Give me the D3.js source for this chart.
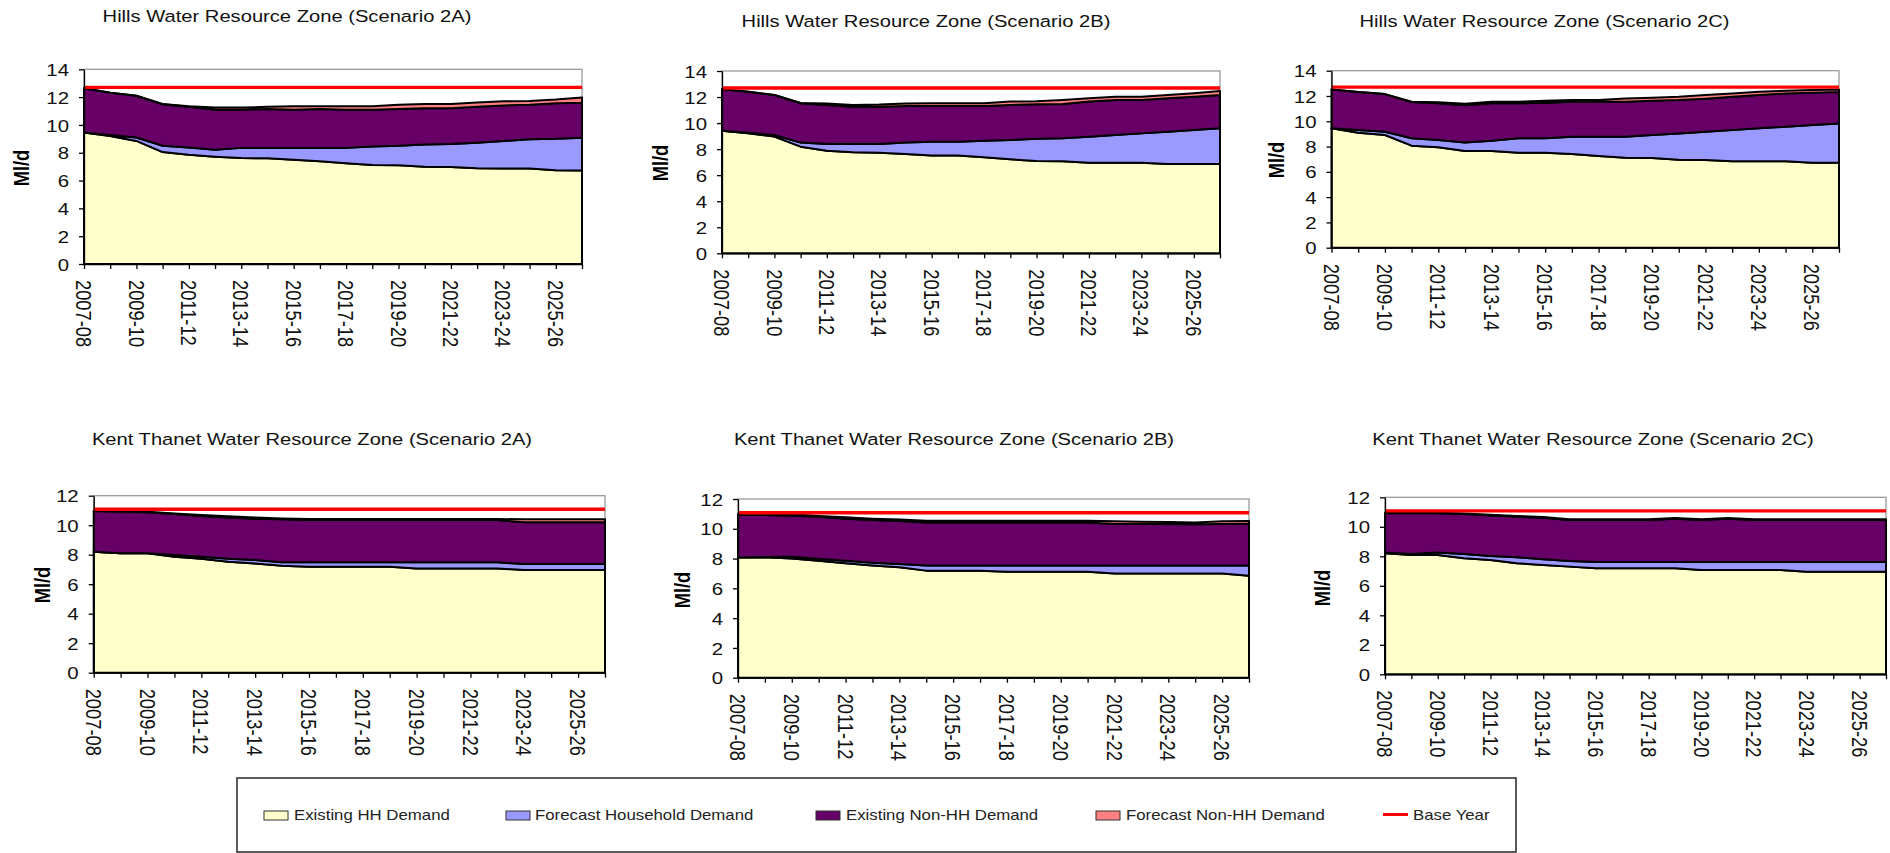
<!DOCTYPE html>
<html>
<head>
<meta charset="utf-8">
<script src="https://cdn.jsdelivr.net/npm/d3@7"></script>
<style>
  html, body { margin: 0; padding: 0; background: #fff; }
  svg { display: block; font-family: "Liberation Sans", Arial, sans-serif; }
</style>
</head>
<body>
<svg id="chart" width="1890" height="853"></svg>
<script>
// ---- Categories and tick labels ----
const categories = ["2007-08","2008-09","2009-10","2010-11","2011-12","2012-13","2013-14","2014-15","2015-16","2016-17",
                    "2017-18","2018-19","2019-20","2020-21","2021-22","2022-23","2023-24","2024-25","2025-26","2026-27"];
const hillsYTicks = [0, 2, 4, 6, 8, 10, 12, 14];
const kentYTicks = [0, 2, 4, 6, 8, 10, 12];

// ---- Series ----
const seriesNames = ["Existing HH Demand", "Forecast Household Demand", "Existing Non-HH Demand", "Forecast Non-HH Demand"];
const seriesColors = ["#FFFFCC", "#9999FF", "#660066", "#FF8080"];
const baseYearName = "Base Year";
const baseYearColor = "#FF0000";

// Hills WRZ, base year demand (Ml/d)
const hillsBaseYear = 12.7;
// Kent Thanet WRZ, base year demand (Ml/d)
const kentBaseYear = 11.08;

// Hills WRZ - Scenario 2A
const hills2A_existingHH    = [9.45, 9.20, 8.85, 8.05, 7.85, 7.72, 7.62, 7.60, 7.50, 7.38, 7.25, 7.12, 7.10, 7.00, 6.98, 6.88, 6.86, 6.86, 6.74, 6.72];
const hills2A_forecastHH    = [0.00, 0.08, 0.25, 0.45, 0.52, 0.50, 0.73, 0.75, 0.85, 0.97, 1.10, 1.33, 1.40, 1.60, 1.64, 1.84, 1.99, 2.11, 2.26, 2.36];
const hills2A_existingNonHH = [3.18, 3.04, 3.00, 2.98, 2.93, 2.88, 2.75, 2.80, 2.75, 2.80, 2.75, 2.65, 2.65, 2.60, 2.58, 2.58, 2.55, 2.48, 2.55, 2.52];
const hills2A_forecastNonHH = [0.00, 0.00, 0.00, 0.02, 0.05, 0.15, 0.15, 0.15, 0.25, 0.20, 0.25, 0.25, 0.30, 0.30, 0.30, 0.32, 0.30, 0.27, 0.27, 0.38];

// Hills WRZ - Scenario 2B
const hills2B_existingHH    = [9.42, 9.21, 8.96, 8.19, 7.88, 7.76, 7.73, 7.63, 7.52, 7.52, 7.37, 7.22, 7.09, 7.06, 6.96, 6.96, 6.96, 6.86, 6.86, 6.86];
const hills2B_forecastHH    = [0.00, 0.04, 0.13, 0.31, 0.52, 0.64, 0.67, 0.87, 1.05, 1.05, 1.28, 1.48, 1.71, 1.77, 2.00, 2.13, 2.25, 2.48, 2.61, 2.74];
const hills2B_existingNonHH = [3.17, 3.16, 3.07, 3.02, 2.99, 2.86, 2.86, 2.81, 2.74, 2.74, 2.66, 2.69, 2.64, 2.64, 2.69, 2.68, 2.56, 2.56, 2.56, 2.56];
const hills2B_forecastNonHH = [0.00, 0.00, 0.00, 0.03, 0.11, 0.13, 0.16, 0.19, 0.21, 0.21, 0.21, 0.26, 0.23, 0.30, 0.25, 0.26, 0.26, 0.26, 0.26, 0.30];

// Hills WRZ - Scenario 2C
const hills2C_existingHH    = [9.44, 9.10, 8.91, 8.07, 7.94, 7.65, 7.65, 7.51, 7.51, 7.41, 7.25, 7.12, 7.09, 6.96, 6.93, 6.83, 6.83, 6.83, 6.72, 6.72];
const hills2C_forecastHH    = [0.00, 0.20, 0.26, 0.58, 0.58, 0.68, 0.81, 1.14, 1.14, 1.37, 1.53, 1.66, 1.82, 2.08, 2.24, 2.48, 2.61, 2.74, 2.98, 3.11];
const hills2C_existingNonHH = [3.08, 3.01, 2.98, 2.87, 2.90, 2.93, 2.96, 2.77, 2.82, 2.77, 2.77, 2.77, 2.72, 2.64, 2.62, 2.63, 2.63, 2.63, 2.56, 2.48];
const hills2C_forecastNonHH = [0.00, 0.00, 0.00, 0.03, 0.08, 0.13, 0.13, 0.13, 0.16, 0.13, 0.13, 0.26, 0.23, 0.26, 0.28, 0.26, 0.27, 0.22, 0.21, 0.21];

// Kent Thanet WRZ - Scenario 2A
const kent2A_existingHH    = [8.20, 8.09, 8.09, 7.86, 7.73, 7.53, 7.41, 7.25, 7.19, 7.19, 7.19, 7.19, 7.07, 7.07, 7.07, 7.07, 6.96, 6.96, 6.96, 6.96];
const kent2A_forecastHH    = [0.00, 0.00, 0.00, 0.12, 0.13, 0.20, 0.23, 0.23, 0.29, 0.29, 0.29, 0.29, 0.41, 0.41, 0.41, 0.41, 0.41, 0.41, 0.41, 0.41];
const kent2A_existingNonHH = [2.76, 2.83, 2.78, 2.78, 2.76, 2.80, 2.80, 2.92, 2.87, 2.87, 2.87, 2.87, 2.87, 2.87, 2.87, 2.87, 2.83, 2.83, 2.83, 2.83];
const kent2A_forecastNonHH = [0.00, 0.04, 0.05, 0.04, 0.07, 0.07, 0.09, 0.06, 0.07, 0.07, 0.07, 0.07, 0.07, 0.07, 0.07, 0.07, 0.20, 0.20, 0.20, 0.20];

// Kent Thanet WRZ - Scenario 2B
const kent2B_existingHH    = [8.08, 8.08, 8.01, 7.86, 7.68, 7.54, 7.41, 7.19, 7.19, 7.19, 7.12, 7.12, 7.12, 7.12, 7.00, 7.00, 7.00, 7.00, 7.00, 6.85];
const kent2B_forecastHH    = [0.00, 0.03, 0.12, 0.13, 0.18, 0.18, 0.22, 0.35, 0.35, 0.35, 0.42, 0.42, 0.42, 0.42, 0.54, 0.54, 0.54, 0.54, 0.54, 0.69];
const kent2B_existingNonHH = [2.84, 2.81, 2.75, 2.82, 2.82, 2.87, 2.89, 2.89, 2.89, 2.89, 2.89, 2.89, 2.89, 2.89, 2.78, 2.78, 2.78, 2.76, 2.78, 2.78];
const kent2B_forecastNonHH = [0.07, 0.07, 0.09, 0.05, 0.09, 0.09, 0.11, 0.11, 0.11, 0.11, 0.11, 0.11, 0.11, 0.11, 0.18, 0.16, 0.14, 0.13, 0.18, 0.20];

// Kent Thanet WRZ - Scenario 2C
const kent2C_existingHH    = [8.20, 8.09, 8.09, 7.86, 7.75, 7.53, 7.41, 7.30, 7.19, 7.19, 7.19, 7.19, 7.07, 7.07, 7.07, 7.07, 6.96, 6.96, 6.96, 6.96];
const kent2C_forecastHH    = [0.05, 0.07, 0.16, 0.30, 0.27, 0.40, 0.39, 0.38, 0.43, 0.43, 0.43, 0.43, 0.55, 0.55, 0.55, 0.55, 0.66, 0.66, 0.66, 0.66];
const kent2C_existingNonHH = [2.67, 2.76, 2.67, 2.71, 2.74, 2.76, 2.82, 2.78, 2.84, 2.84, 2.84, 2.93, 2.84, 2.93, 2.84, 2.84, 2.84, 2.84, 2.84, 2.84];
const kent2C_forecastNonHH = [0.04, 0.04, 0.04, 0.04, 0.05, 0.05, 0.05, 0.05, 0.05, 0.05, 0.05, 0.05, 0.05, 0.05, 0.05, 0.05, 0.05, 0.05, 0.05, 0.05];

// ---- Panel layout (pixel frames of each plot area) ----
const panels = [
  { title: "Hills Water Resource Zone (Scenario 2A)", series: [hills2A_existingHH, hills2A_forecastHH, hills2A_existingNonHH, hills2A_forecastNonHH],
    base: hillsBaseYear, ticks: hillsYTicks, left: 84, right: 582, top: 69.3, bottom: 264, titleX: 287, titleY: 22, labX: 21, labY: 168 },
  { title: "Hills Water Resource Zone (Scenario 2B)", series: [hills2B_existingHH, hills2B_forecastHH, hills2B_existingNonHH, hills2B_forecastNonHH],
    base: hillsBaseYear, ticks: hillsYTicks, left: 722, right: 1220, top: 71, bottom: 253.3, titleX: 926, titleY: 27.3, labX: 660, labY: 163 },
  { title: "Hills Water Resource Zone (Scenario 2C)", series: [hills2C_existingHH, hills2C_forecastHH, hills2C_existingNonHH, hills2C_forecastNonHH],
    base: hillsBaseYear, ticks: hillsYTicks, left: 1331.5, right: 1839, top: 70.7, bottom: 247.7, titleX: 1544.5, titleY: 26.7, labX: 1276, labY: 160 },
  { title: "Kent Thanet Water Resource Zone (Scenario 2A)", series: [kent2A_existingHH, kent2A_forecastHH, kent2A_existingNonHH, kent2A_forecastNonHH],
    base: kentBaseYear, ticks: kentYTicks, left: 93.7, right: 605, top: 495.7, bottom: 672.7, titleX: 312, titleY: 445, labX: 42.3, labY: 585 },
  { title: "Kent Thanet Water Resource Zone (Scenario 2B)", series: [kent2B_existingHH, kent2B_forecastHH, kent2B_existingNonHH, kent2B_forecastNonHH],
    base: kentBaseYear, ticks: kentYTicks, left: 738, right: 1249, top: 499, bottom: 677.7, titleX: 954, titleY: 445, labX: 682, labY: 590 },
  { title: "Kent Thanet Water Resource Zone (Scenario 2C)", series: [kent2C_existingHH, kent2C_forecastHH, kent2C_existingNonHH, kent2C_forecastNonHH],
    base: kentBaseYear, ticks: kentYTicks, left: 1385, right: 1886, top: 497.3, bottom: 674.3, titleX: 1593, titleY: 445, labX: 1322, labY: 588 }
];

// Text in these charts is set slightly wide
const SX = 1.2;
const svg = d3.select("#chart");
const keys = ["ehh", "fhh", "enhh", "fnhh"];

panels.forEach(p => {
  const g = svg.append("g");
  const x = d3.scalePoint().domain(categories).range([p.left, p.right]).padding(0);
  const y = d3.scaleLinear().domain([0, d3.max(p.ticks)]).range([p.bottom, p.top]);

  const rows = categories.map((c, i) => ({ cat: c, ehh: p.series[0][i], fhh: p.series[1][i], enhh: p.series[2][i], fnhh: p.series[3][i] }));
  const stacked = d3.stack().keys(keys)(rows);

  // plot area frame
  g.append("rect")
    .attr("x", p.left).attr("y", p.top)
    .attr("width", p.right - p.left).attr("height", p.bottom - p.top)
    .attr("fill", "#fff").attr("stroke", "#9a9a9a").attr("stroke-width", 1.3);

  const area = d3.area()
    .x(d => x(d.data.cat))
    .y0(d => y(d[0]))
    .y1(d => y(d[1]));

  g.selectAll("path.layer").data(stacked).join("path")
    .attr("class", "layer")
    .attr("d", area)
    .attr("fill", (d, i) => seriesColors[i])
    .attr("stroke", "#000").attr("stroke-width", 2).attr("stroke-linejoin", "round");

  // base-year line
  g.append("line")
    .attr("x1", p.left).attr("x2", p.right)
    .attr("y1", y(p.base)).attr("y2", y(p.base))
    .attr("stroke", baseYearColor).attr("stroke-width", 3.4);

  // y axis
  const yAxis = g.append("g").attr("transform", `translate(${p.left},0)`)
    .call(d3.axisLeft(y).tickValues(p.ticks).tickSize(5).tickSizeOuter(0).tickFormat(d3.format("d")));
  yAxis.select(".domain").attr("stroke", "#000").attr("stroke-width", 1.3);
  yAxis.selectAll(".tick line").attr("stroke", "#000").attr("stroke-width", 1.3);
  yAxis.selectAll(".tick text")
    .attr("x", 0).attr("dy", "0.36em")
    .attr("transform", `translate(-15,0) scale(${SX},1)`)
    .attr("text-anchor", "end")
    .attr("font-size", 17).attr("fill", "#111");

  // x axis
  const xAxis = g.append("g").attr("transform", `translate(0,${p.bottom})`)
    .call(d3.axisBottom(x).tickSize(5).tickSizeOuter(0).tickFormat(""));
  xAxis.select(".domain").attr("stroke", "#000").attr("stroke-width", 1.3);
  xAxis.selectAll(".tick line").attr("stroke", "#000").attr("stroke-width", 1.3);

  g.selectAll("text.xlab").data(categories.filter((c, i) => i % 2 === 0)).join("text")
    .attr("class", "xlab")
    .attr("transform", d => `translate(${x(d)},${p.bottom + 16}) scale(${SX},1) rotate(90)`)
    .attr("dy", "0.36em")
    .attr("text-anchor", "start")
    .attr("font-size", 18.3).attr("fill", "#111")
    .text(d => d);

  // y axis title
  g.append("text")
    .attr("transform", `translate(${p.labX},${p.labY}) scale(${SX},1) rotate(-90)`)
    .attr("dy", "0.36em")
    .attr("text-anchor", "middle")
    .attr("font-size", 18.3).attr("font-weight", "bold").attr("fill", "#000")
    .text("Ml/d");

  // chart title
  g.append("text")
    .attr("transform", `translate(${p.titleX},${p.titleY}) scale(${SX},1)`)
    .attr("text-anchor", "middle")
    .attr("font-size", 16.8).attr("fill", "#111")
    .text(p.title);
});

// ---- Legend ----
const legend = svg.append("g");
legend.append("rect")
  .attr("x", 237).attr("y", 778).attr("width", 1279).attr("height", 74)
  .attr("fill", "#fff").attr("stroke", "#333").attr("stroke-width", 1.6);

const legendItems = [
  { name: seriesNames[0], color: seriesColors[0], sx: 264, tx: 294 },
  { name: seriesNames[1], color: seriesColors[1], sx: 506, tx: 535 },
  { name: seriesNames[2], color: seriesColors[2], sx: 816, tx: 846 },
  { name: seriesNames[3], color: seriesColors[3], sx: 1096, tx: 1126 }
];
legendItems.forEach(it => {
  legend.append("rect")
    .attr("x", it.sx).attr("y", 811).attr("width", 24).attr("height", 9)
    .attr("fill", it.color).attr("stroke", "#333").attr("stroke-width", 1);
  legend.append("text")
    .attr("transform", `translate(${it.tx},820) scale(${SX},1)`)
    .attr("font-size", 14).attr("fill", "#222")
    .text(it.name);
});
legend.append("line")
  .attr("x1", 1383).attr("x2", 1408).attr("y1", 814.5).attr("y2", 814.5)
  .attr("stroke", baseYearColor).attr("stroke-width", 3);
legend.append("text")
  .attr("transform", `translate(1413,820) scale(${SX},1)`)
  .attr("font-size", 14).attr("fill", "#222")
  .text(baseYearName);
</script>
</body>
</html>
